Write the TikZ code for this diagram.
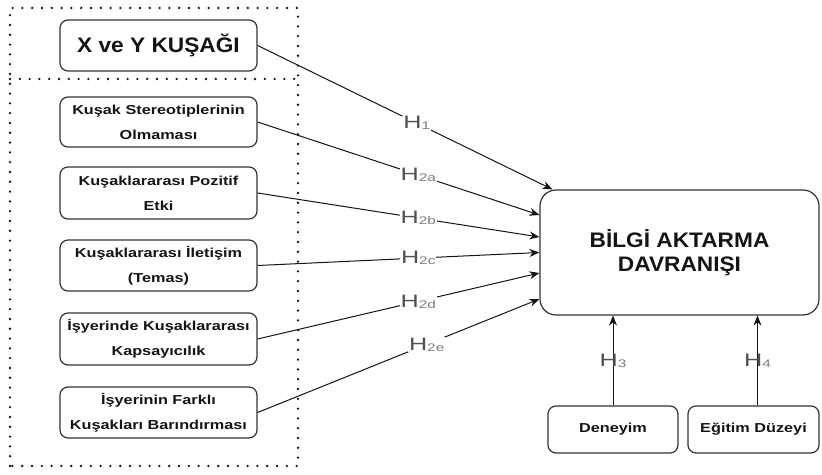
\documentclass[tikz,border=0pt]{standalone}
\usepackage{fontspec}
\setmainfont{Liberation Sans}
\newfontfamily\boxfont[FakeStretch=1.25]{Liberation Sans}
\newfontfamily\titlefont[FakeStretch=1.08]{Liberation Sans}
\newfontfamily\hypfont[FakeStretch=1.4]{Liberation Sans}
\definecolor{edge}{RGB}{51,51,51}
\definecolor{ink}{RGB}{20,20,20}
\definecolor{hmain}{RGB}{80,80,80}
\definecolor{hsub}{RGB}{125,125,125}
\usetikzlibrary{arrows.meta}
\newcommand{\hyp}[1]{{\hypfont\fontsize{18}{18}\selectfont\color{hmain}H\raisebox{-1pt}{\fontsize{11}{11}\selectfont\color{hsub}#1}}}

\begin{document}
\begin{tikzpicture}[x=1pt,y=1pt,
        box/.style={draw=edge, line width=1.2pt, rounded corners=8pt, align=center, text=ink, inner sep=0pt,
            font=\boxfont\bfseries\fontsize{13}{25}\selectfont},
        title/.style={box, font=\titlefont\bfseries\fontsize{21}{24}\selectfont},
        link/.style={draw=ink, line width=1pt, -{Stealth[length=10pt,width=8pt]}},
        hlab/.style={fill=white, inner sep=1pt},
        group/.style={draw=ink, line width=2.6pt, dash pattern=on 0pt off 9.8pt, line cap=round}]
        \useasboundingbox (0,0) rectangle (822,474);
        \begin{scope}
            \draw[group] (10,8) rectangle (298,466);
            \draw[group] (10,395) -- (298,395);
        \end{scope}
        \node[title, minimum width=197pt, minimum height=51pt] (xy) at (158.5,428.5) {X ve Y KUŞAĞI};
        \node[box, minimum width=197pt, minimum height=50pt] (k1) at (158.5,352) {Kuşak Stereotiplerinin\\Olmaması};
        \node[box, minimum width=197pt, minimum height=52pt] (k2) at (158.5,281) {Kuşaklararası Pozitif\\Etki};
        \node[box, minimum width=197pt, minimum height=51pt] (k3) at (158.5,208.5) {Kuşaklararası İletişim\\(Temas)};
        \node[box, minimum width=197pt, minimum height=52pt] (k4) at (158.5,135) {İşyerinde Kuşaklararası\\Kapsayıcılık};
        \node[box, minimum width=197pt, minimum height=51pt] (k5) at (158.5,61.5) {İşyerinin Farklı\\Kuşakları Barındırması};
        \node[title, rounded corners=16pt, minimum width=279pt, minimum height=125pt] (bilgi) at (679.5,221.5) {BİLGİ AKTARMA\\DAVRANIŞI};
        \node[box, minimum width=130pt, minimum height=47pt] (deneyim) at (613,44.5) {Deneyim};
        \node[box, minimum width=131pt, minimum height=47pt] (egitim) at (753.5,44.5) {Eğitim Düzeyi};
        \draw[link] (xy.east) -- node[hlab, pos=.54] {\hyp{1}} ([xshift=13pt]bilgi.north west);
        \draw[link] (k1.east) -- node[hlab, pos=.57] {\hyp{2a}} ([yshift=37.5pt]bilgi.west);
        \draw[link] (k2.east) -- node[hlab, pos=.57] {\hyp{2b}} ([yshift=15.5pt]bilgi.west);
        \draw[link] (k3.east) -- node[hlab, pos=.57] {\hyp{2c}} (bilgi.west);
        \draw[link] (k4.east) -- node[hlab, pos=.57] {\hyp{2d}} ([yshift=-20.5pt]bilgi.west);
        \draw[link] (k5.east) -- node[hlab, pos=.6] {\hyp{2e}} ([yshift=-46.5pt]bilgi.west);
        \draw[link] (deneyim.north) -- node {\hyp{3}} (deneyim.north |- bilgi.south);
        \draw[link] ([xshift=4pt]egitim.north) -- node {\hyp{4}} ([xshift=4pt]egitim.north |- bilgi.south);
    \end{tikzpicture}
\end{document}
